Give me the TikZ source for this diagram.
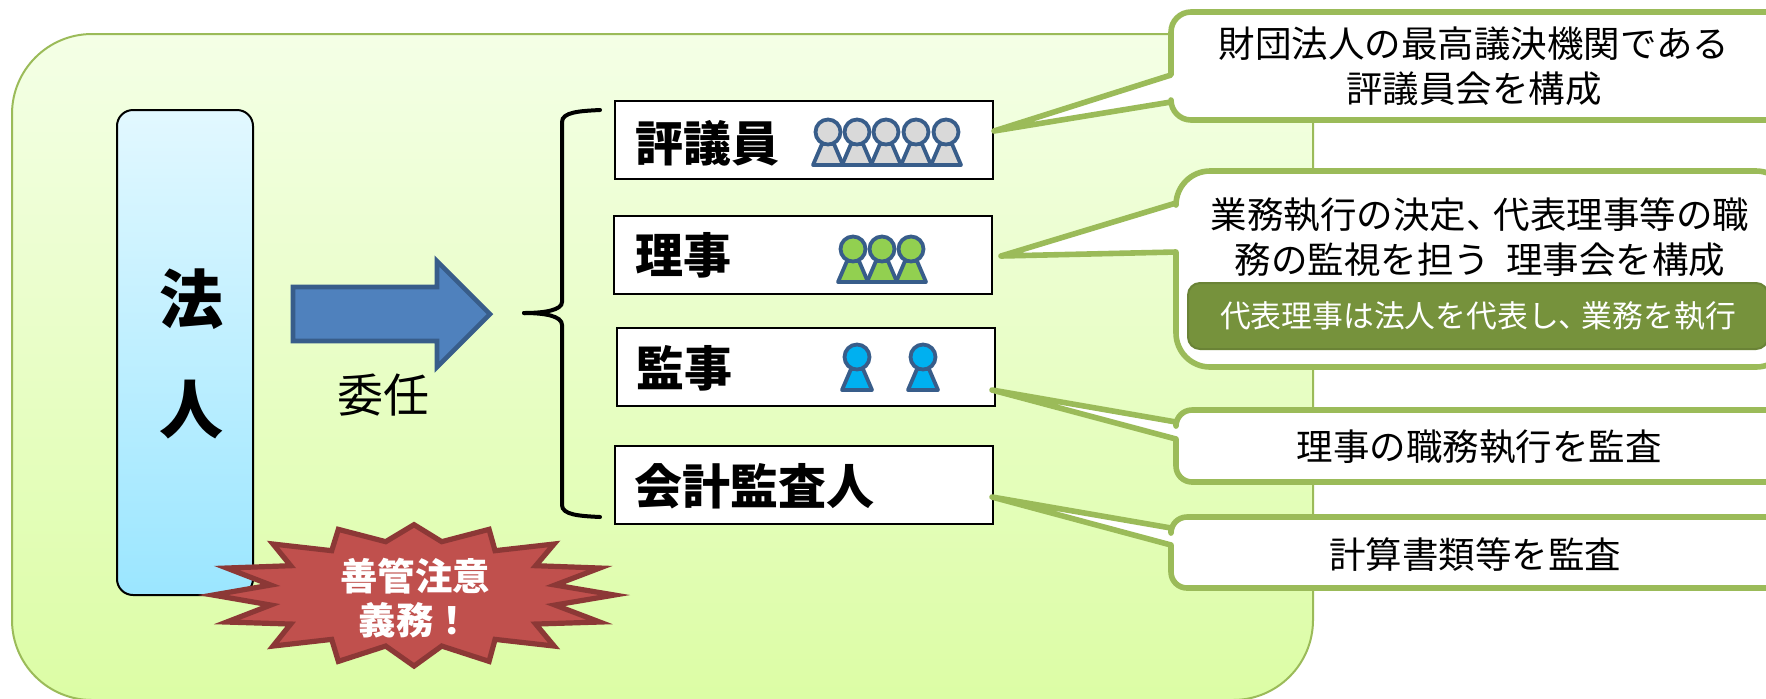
\documentclass[tikz,border=0pt]{standalone}
\usepackage{fontspec}
\usepackage{tikz}
\usetikzlibrary{positioning}
\setmainfont{Noto Sans CJK JP}
\definecolor{waku}{HTML}{9BBB59}
\definecolor{kon}{HTML}{385D8A}
\definecolor{ao}{HTML}{4F81BD}
\definecolor{aka}{HTML}{C0504D}
\definecolor{akawaku}{HTML}{8C3836}
\definecolor{midori}{HTML}{76923C}
\definecolor{haikeiTop}{HTML}{F4FFE6}
\definecolor{haikeiBot}{HTML}{DCFDA5}
\definecolor{hojinTop}{HTML}{E2F8FF}
\definecolor{hojinBot}{HTML}{9BE6FF}
\definecolor{jinGray}{HTML}{D9D9D9}
\definecolor{jinGreen}{HTML}{92D050}
\definecolor{jinBlue}{HTML}{00B0F0}
\tikzset{
   yakuin/.style={draw=black, line width=1pt, fill=white, minimum width=189pt, minimum height=39pt},
   yakumei/.style={font=\fontsize{24pt}{24pt}\selectfont\bfseries, inner sep=0pt},
   hojinmoji/.style={font=\fontsize{32pt}{32pt}\selectfont\bfseries, inner sep=0pt},
   koe/.style={draw=waku, line width=2.8pt, fill=white, line join=round},
   setsumei/.style={font=\fontsize{18.25pt}{22.5pt}\selectfont, align=center, inner sep=0pt},
   jin/.style={draw=kon, line width=1.9pt, line join=round}
}
\begin{document}
\begin{tikzpicture}[x=0.5pt, y=-0.5pt]
   \useasboundingbox (0,0) rectangle (1766,698);
   \clip (0,0) rectangle (1766,698);
   % background
   \draw[draw=waku, line width=1pt, rounded corners=40pt, top color=haikeiTop, bottom color=haikeiBot]
      (12,34) rectangle (1313,700);
   % left side
   \node (hojin) [draw=black, line width=1pt, rounded corners=8pt, top color=hojinTop, bottom color=hojinBot,
      minimum width=68pt, minimum height=242.5pt] at (185,352.5) {};
   \node (ho) [hojinmoji] at (191,299) {法};
   \node (nin) [hojinmoji] at (191,410) {人};
   \draw[draw=kon, line width=2.3pt, fill=ao] (293,287) -- (437,287) -- (437,261) -- (490,314) -- (437,367) -- (437,341) -- (293,341) -- cycle;
   \node (inin) [font=\fontsize{23pt}{23pt}\selectfont, inner sep=0pt] at (383,395) {委任};
   % brace
   \coordinate (kakkoTop) at (600,110);
   \coordinate (kakkoBot) at (600,517);
   \coordinate (kakkoTip) at (524,313);
   \draw[line width=2pt, line cap=round] (kakkoTop) .. controls (580,111) and (562,112) .. (562,122) -- (562,302)
      .. controls (562,310) and (545,313) .. (kakkoTip);
   \draw[line width=2pt, line cap=round] (kakkoBot) .. controls (580,516) and (562,515) .. (562,505) -- (562,325)
      .. controls (562,316) and (545,313) .. (kakkoTip);
   % boxes
   \node (hyo) [yakuin] at (804,140) {};
   \node (rij) [yakuin] at (803,255) {};
   \node (kan) [yakuin] at (806,367) {};
   \node (kai) [yakuin] at (804,485) {};
   \node (hyoT) [yakumei, anchor=west] at (635,143) {評議員};
   \node (rijT) [yakumei, anchor=west] at (635,255) {理事};
   \node (kanT) [yakumei, anchor=west] at (636,368) {監事};
   \node (kaiT) [yakumei, anchor=west] at (634,486) {会計監査人};
   % people
   \foreach \x/\y/\c in {828/132/jinGray, 857/132/jinGray, 886/132/jinGray, 916/132/jinGray, 946/132/jinGray,
         853/249/jinGreen, 882/249/jinGreen, 911/249/jinGreen, 857/357/jinBlue, 923/357/jinBlue} {
      \draw[jin, fill=\c] (\x-6,\y+12) -- (\x-15,\y+33) -- (\x+15,\y+33) -- (\x+6,\y+12) -- cycle;
      \draw[jin, fill=\c] (\x,\y) circle (6.25pt);
   }
   % callouts
   \coordinate (tipA) at (994,131);
   \coordinate (tipB) at (1001,256);
   \coordinate (tipC) at (992,390);
   \coordinate (tipD) at (992,497);
   \draw[koe] (1171,75) [rounded corners=10pt] -- (1171,12) -- (1790,12) -- (1790,120) -- (1171,120) [sharp corners] -- (1171,102) -- (tipA) -- cycle;
   \draw[koe] (1176,203) [rounded corners=17pt] -- (1176,171) -- (1790,171) -- (1790,367) -- (1176,367) [sharp corners] -- (1176,252) -- (tipB) -- cycle;
   \draw[koe] (1176,422) [rounded corners=8pt] -- (1176,410) -- (1790,410) -- (1790,482) -- (1176,482) [sharp corners] -- (1176,439) -- (tipC) -- cycle;
   \draw[koe] (1171,528) [rounded corners=8pt] -- (1171,517) -- (1790,517) -- (1790,588) -- (1171,588) [sharp corners] -- (1171,545) -- (tipD) -- cycle;
   \node (koeA) [setsumei] at (1474,66) {財団法人の最高議決機関である\\評議員会を構成};
   \node (koeB) [setsumei] at (1480,237) {業務執行の決定、\kern-.25em 代表理事等の職\\務の監視を担う\ \ 理事会を構成};
   \node (daihyo) [draw=midori!90!black, line width=1pt, fill=midori, rounded corners=6pt, minimum width=290pt, minimum height=33pt,
      text=white, font=\fontsize{15.4pt}{15.4pt}\selectfont, inner sep=0pt] at (1478,316) {代表理事は法人を代表し、\kern-.25em 業務を執行};
   \node (koeC) [setsumei] at (1479,447) {理事の職務執行を監査};
   \node (koeD) [setsumei] at (1475,555) {計算書類等を監査};
   % star
   \draw[draw=akawaku, line width=2.6pt, fill=aka, line join=miter, miter limit=10, shift={(189,500)}, x=0.1667pt, y=-0.1667pt]
      (675,74) -- (758,125) -- (900,88) -- (918,152) -- (1095,132) -- (1040,197) -- (1232,204) -- (1098,255) -- (1276,285)
      -- (1098,315) -- (1232,366) -- (1040,372) -- (1095,438) -- (918,418) -- (900,484) -- (758,438) -- (675,498)
      -- (590,438) -- (448,484) -- (428,418) -- (252,438) -- (305,372) -- (113,366) -- (245,315) -- (72,285)
      -- (245,255) -- (113,204) -- (305,197) -- (252,132) -- (428,152) -- (448,88) -- (590,125) -- cycle;
   \node (zenkan) [font=\fontsize{18.7pt}{22pt}\selectfont\bfseries, text=white, align=center, inner sep=0pt] at (415,598) {善管注意\\義務！};
\end{tikzpicture}
\end{document}
